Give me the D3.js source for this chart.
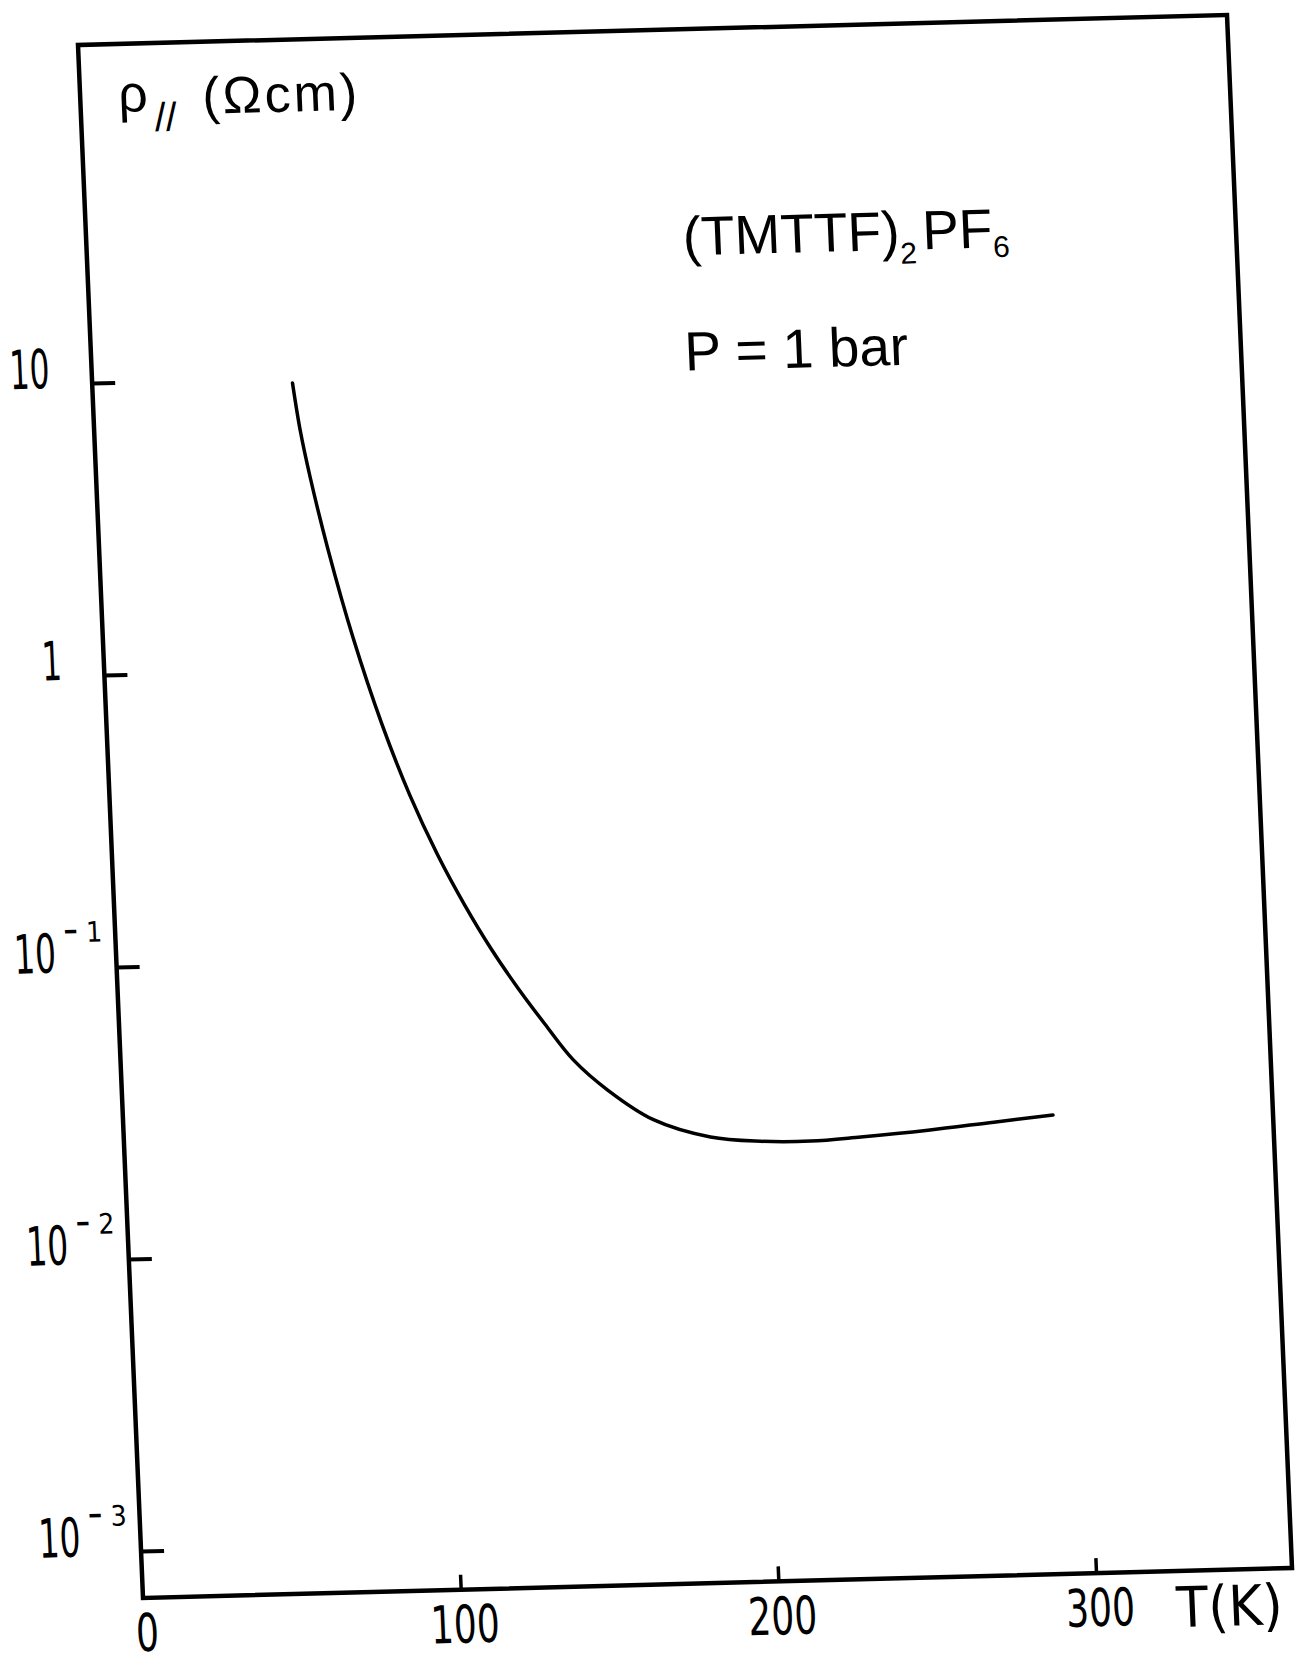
<!DOCTYPE html>
<html>
<head>
<meta charset="utf-8">
<script src="https://cdn.jsdelivr.net/npm/d3@7"></script>
<style>
  body { margin: 0; background: #fff; }
  text { fill: #000; }
</style>
</head>
<body>
<div id="graph"></div>
<script>
// curve: temperature (K) and rho (ohm cm)
var temps = [63, 64.8, 67.3, 72, 78.7, 86.6, 94.4, 102.3, 110.2, 118, 125.9, 133.8, 142.4, 152.8, 166.8, 184.5, 200.2, 216, 231.8, 253, 273.8, 292.5];
var rhos  = [9.6, 6.6, 4.56, 2.56, 1.274, 0.643, 0.366, 0.228, 0.1522, 0.1069, 0.0781, 0.0587, 0.0438, 0.0343, 0.0269, 0.0232, 0.0222, 0.022, 0.0225, 0.0234, 0.0246, 0.0257];

var yTicks = [1e-3, 1e-2, 1e-1, 1, 10];
var yTickBase = ["10", "10", "10", "1", "10"];
var yTickExp = ["3", "2", "1", "", ""];
var xTicks = [100, 200, 300];
var xLabelVals = [0, 100, 200, 300];
var xLabels = ["0", "100", "200", "300"];

var W = 1149, H = 1553; // frame size before the scan skew

var x = d3.scaleLinear().domain([0, 300]).range([0, 953]);
var y = d3.scaleLog().domain([1e-3, 10]).range([1506, 338]);

var data = [];
for (let i = 0; i < temps.length; i++) data.push([temps[i], rhos[i]]);

var svg = d3.select("#graph").append("svg")
  .attr("width", 1295)
  .attr("height", 1663);

// the scanned page is slightly sheared, so the whole plot is too
var graph = svg.append("g")
  .attr("transform", "matrix(1,-0.0261,0.04186,1,78,45)");

graph.append("rect")
  .attr("x", 0).attr("y", 0)
  .attr("width", W).attr("height", H)
  .attr("fill", "none")
  .attr("stroke", "#000")
  .attr("stroke-width", 4.5);

var yAxis = d3.axisRight(y).tickValues(yTicks).tickSize(23).tickFormat("");
var gy = graph.append("g").attr("class", "y axis").call(yAxis);
gy.select(".domain").remove();
gy.selectAll("line").attr("stroke-width", 4);

var xAxis = d3.axisTop(x).tickValues(xTicks).tickSize(15).tickFormat("");
var gx = graph.append("g").attr("class", "x axis")
  .attr("transform", "translate(0," + H + ")")
  .call(xAxis);
gx.select(".domain").remove();
gx.selectAll("line").attr("stroke-width", 3.5);

var numFont = "'DejaVu Sans Condensed','DejaVu Sans',sans-serif";
var textFont = "'Liberation Sans','DejaVu Sans',sans-serif";

// y tick labels: 10 with a raised exponent, drawn in pieces like the stencil lettering
for (let i = 0; i < yTicks.length; i++) {
  var by = y(yTicks[i]) + 4;
  if (yTickExp[i]) {
    graph.append("text")
      .attr("x", -102).attr("y", by)
      .attr("font-family", numFont).attr("font-size", 54)
      .attr("textLength", 42).attr("lengthAdjust", "spacingAndGlyphs")
      .text(yTickBase[i]);
    graph.append("text")
      .attr("x", -52).attr("y", by - 31)
      .attr("font-family", numFont).attr("font-size", 30)
      .attr("font-weight", "bold")
      .attr("textLength", 15).attr("lengthAdjust", "spacingAndGlyphs")
      .text("\u2212");
    graph.append("text")
      .attr("x", -29).attr("y", by - 30)
      .attr("font-family", numFont).attr("font-size", 28)
      .text(yTickExp[i]);
  } else {
    graph.append("text")
      .attr("x", -42).attr("y", by)
      .attr("text-anchor", "end")
      .attr("font-family", numFont).attr("font-size", 54)
      .attr("textLength", yTickBase[i].length * 20).attr("lengthAdjust", "spacingAndGlyphs")
      .text(yTickBase[i]);
  }
}

// x tick labels
graph.selectAll(".xlab").data(xLabelVals).enter().append("text")
  .attr("class", "xlab")
  .attr("x", function(d) { return x(d) + 3; })
  .attr("y", H + 53)
  .attr("text-anchor", "middle")
  .attr("font-family", numFont)
  .attr("font-size", 52)
  .attr("textLength", function(d, i) { return xLabels[i].length * 23; })
  .attr("lengthAdjust", "spacingAndGlyphs")
  .text(function(d, i) { return xLabels[i]; });

graph.append("text")
  .attr("x", 1032).attr("y", H + 56)
  .attr("font-family", numFont)
  .attr("font-size", 56)
  .attr("textLength", 106).attr("lengthAdjust", "spacingAndGlyphs")
  .text("T(K)");

// y axis title
var yt = graph.append("text")
  .attr("x", 38).attr("y", 68)
  .attr("font-family", textFont)
  .attr("font-size", 52)
  .text("\u03C1");
yt.append("tspan").attr("dy", 20).attr("dx", 6).attr("font-size", 40).text("//");
yt.append("tspan").attr("x", 122).attr("y", 72).attr("letter-spacing", 3).text("(\u03A9cm)");

// compound label
var lab = graph.append("text")
  .attr("x", 596).attr("y", 226)
  .attr("font-family", textFont)
  .attr("font-size", 55)
  .text("(TMTTF)");
lab.append("tspan").attr("dy", 14).attr("font-size", 30).text("2");
lab.append("tspan").attr("dy", -14).attr("dx", 6).text("PF");
lab.append("tspan").attr("dy", 10).attr("font-size", 30).text("6");

graph.append("text")
  .attr("x", 593).attr("y", 341)
  .attr("font-family", textFont)
  .attr("font-size", 55)
  .text("P = 1 bar");

var line = d3.line()
  .x(function(d) { return x(d[0]); })
  .y(function(d) { return y(d[1]); })
  .curve(d3.curveCatmullRom.alpha(0.5));

graph.append("path")
  .attr("d", line(data))
  .attr("fill", "none")
  .attr("stroke", "#000")
  .attr("stroke-width", 3.5)
  .attr("stroke-linecap", "round");
</script>
</body>
</html>
